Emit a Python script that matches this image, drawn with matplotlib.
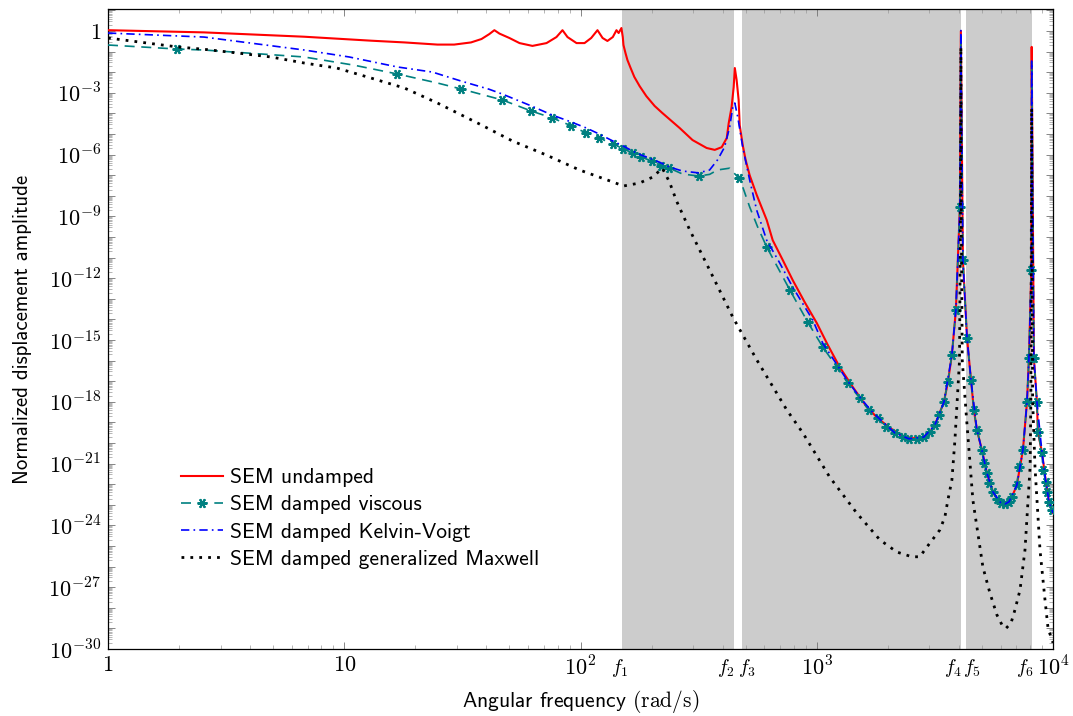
import matplotlib
matplotlib.use("Agg")
import matplotlib.pyplot as plt
import matplotlib.ticker as mticker
import matplotlib.transforms as mtransforms
import numpy as np

plt.rcParams['mathtext.fontset'] = 'cm'
plt.rcParams['font.family'] = ['cmss10', 'DejaVu Sans']
plt.rcParams['axes.unicode_minus'] = False

# ---------------- data ----------------
band_edges = [150, 445, 484, 4074, 4278, 8124]
band_labels = [r'$f_1$', r'$f_2$', r'$f_3$', r'$f_4$', r'$f_5$', r'$f_6$']

undamped_f = [1, 2.55, 6.77, 13, 18, 24.8, 29.2, 34.4, 38.1, 41.1,
              43.2, 45.4, 50, 55.2, 62.6, 71.8, 79.1, 83.9, 88.1, 96.2,
              104, 111, 118, 124, 130, 137, 142, 145, 149, 151,
              152, 155, 158, 163, 169, 178, 190, 206, 222, 263,
              298, 342, 370, 396, 416, 424, 436, 445, 450, 458,
              467, 472, 486, 500, 520, 557, 614, 651, 718, 791,
              889, 1000, 1114, 1250, 1421, 1630, 1812, 2040, 2313, 2550,
              2840, 3010, 3162, 3288, 3454, 3590, 3733, 3881, 4036, 4074,
              4156, 4325, 4498, 4625, 4764, 5000, 5250, 5570, 5790, 6025,
              6265, 6514, 6700, 7030, 7460, 7760, 7910, 8095, 8124, 8300,
              8550, 8630, 8980, 9330, 9620, 10000]
undamped_a = [1.1, 0.86, 0.53, 0.34, 0.28, 0.22, 0.22, 0.28, 0.41, 0.71,
              1.1, 0.75, 0.46, 0.26, 0.19, 0.26, 0.51, 1.1, 0.51, 0.26,
              0.26, 0.46, 1.1, 0.46, 0.33, 0.51, 1.1, 0.8, 1.4, 0.51,
              0.21, 0.086, 0.039, 0.016, 5.9e-3, 2.1e-3, 6.9e-4, 2.3e-4, 1.05e-4, 1.95e-5,
              5.1e-6, 2.1e-6, 1.7e-6, 2.3e-6, 6.4e-6, 3.4e-5, 2e-4, 1.9e-3, 1.6e-2, 4.2e-3,
              4.5e-4, 2.7e-5, 2.9e-6, 5.5e-7, 1.0e-7, 1.1e-8, 6.7e-10, 7e-11, 7.6e-12, 8.1e-13,
              6.9e-14, 6.7e-15, 5.7e-16, 4.9e-17, 5.2e-18, 5.6e-19, 1.6e-19, 5.4e-20, 2.2e-20, 1.7e-20,
              2.0e-20, 3.4e-20, 7.5e-20, 2.3e-19, 9.8e-19, 9.1e-18, 1.9e-16, 2.9e-14, 2.9e-9, 1.0,
              7.6e-12, 1.3e-15, 1.1e-17, 4e-19, 4.3e-20, 4.6e-21, 3.5e-22, 4.2e-23, 1.9e-23, 1.2e-23,
              1.1e-23, 1.4e-23, 2.4e-23, 9.1e-23, 4.6e-21, 9.8e-19, 1.35e-16, 2.5e-12, 0.17, 1.35e-16,
              9.8e-19, 3.4e-20, 3.6e-21, 1.3e-22, 1.4e-23, 4e-24]

viscous_f = [1, 1.96, 2.55, 6.77, 11, 16.8, 24.8, 31.3, 46.7, 62,
             76, 91.6, 106, 120, 137, 152, 166, 181, 200, 220,
             238, 270, 316, 352, 380, 428, 467, 486, 520, 562,
             614, 769, 916, 1060, 1216, 1353, 1521, 1660, 1812, 1960,
             2140, 2313, 2455, 2655, 2840, 3010, 3162, 3288, 3454, 3590,
             3733, 3881, 4036, 4074, 4156, 4325, 4498, 4625, 4764, 5000,
             5100, 5250, 5355, 5570, 5790, 6025, 6265, 6514, 6700, 7030,
             7170, 7460, 7760, 7910, 8095, 8124, 8300, 8550, 8630, 8980,
             9070, 9330, 9430, 9620, 9900, 10000]
viscous_a = [0.21, 0.134, 0.12, 0.055, 0.022, 8.2e-3, 3e-3, 1.53e-3, 4.5e-4, 1.3e-4,
             6e-5, 2.5e-5, 1.1e-5, 6.4e-6, 3.3e-6, 1.9e-6, 1.2e-6, 7.6e-7, 4.9e-7, 2.8e-7,
             2.2e-7, 1.15e-7, 9.1e-8, 1.1e-7, 1.8e-7, 2.2e-7, 7.3e-8, 2.7e-8, 2.9e-9, 3.1e-10,
             3.3e-11, 2.7e-13, 7.4e-15, 4.6e-16, 4.9e-17, 8.1e-18, 1.5e-18, 4e-19, 1.6e-19, 6e-20,
             3.1e-20, 1.95e-20, 1.6e-20, 1.6e-20, 1.95e-20, 3.4e-20, 7.5e-20, 2.3e-19, 9.8e-19, 9.1e-18,
             1.9e-16, 2.9e-14, 2.9e-9, 0.3, 7.6e-12, 1.3e-15, 1.1e-17, 4e-19, 4.3e-20, 4.6e-21,
             1.07e-21, 3.5e-22, 1.15e-22, 4.2e-23, 1.9e-23, 1.2e-23, 1.1e-23, 1.4e-23, 2.4e-23, 9.1e-23,
             6.8e-22, 4.6e-21, 9.8e-19, 1.35e-16, 2.5e-12, 0.03, 1.35e-16, 9.8e-19, 3.4e-20, 3.6e-21,
             4.9e-22, 1.3e-22, 4.2e-23, 1.4e-23, 5.6e-24, 4e-24]
viscous_unmarked = [1, 2.55, 6.77, 11, 24.8, 270, 352, 380, 428, 486, 520, 562,
                    4074, 8124, 10000]

kv_f = [1, 2.55, 6.77, 10.5, 16.8, 23.6, 31.3, 41, 46.7, 62,
        76, 91.6, 106, 120, 137, 152, 166, 181, 200, 220,
        238, 270, 316, 352, 380, 407, 428, 441, 450, 463,
        486, 520, 557, 614, 697, 791, 962, 1060, 1216, 1353,
        1521, 1726, 2140, 2455, 2840, 3162, 3454, 3733, 3881, 4036,
        4074, 4156, 4325, 4498, 4764, 5000, 5250, 5570, 6025, 6265,
        6514, 7030, 7460, 7760, 7910, 8095, 8124, 8300, 8550, 8980,
        9330, 9620, 10000]
kv_a = [0.8, 0.51, 0.12, 0.055, 0.018, 0.0102, 3.7e-3, 1.5e-3, 8.7e-4, 2.3e-4,
        8.3e-5, 3.8e-5, 1.95e-5, 1e-5, 4.6e-6, 2.6e-6, 1.5e-6, 9.5e-7, 6.2e-7, 3.9e-7,
        2.5e-7, 1.6e-7, 1.3e-7, 1.8e-7, 5.5e-7, 2.3e-6, 2.2e-5, 2e-4, 3.2e-4, 6.7e-5,
        2.3e-6, 5.9e-8, 2e-9, 7e-11, 5.5e-12, 3.7e-13, 9.3e-15, 7e-16, 6.5e-17, 1e-17,
        1.7e-18, 3e-19, 3.1e-20, 1.6e-20, 1.95e-20, 7.5e-20, 9.8e-19, 1.9e-16, 2.9e-14, 2.9e-9,
        1.15, 7.6e-12, 1.3e-15, 1.1e-17, 4.3e-20, 4.6e-21, 3.5e-22, 4.2e-23, 1.2e-23, 1.1e-23,
        1.4e-23, 9.1e-23, 4.6e-21, 9.8e-19, 1.35e-16, 2.5e-12, 0.035, 1.35e-16, 9.8e-19, 3.6e-21,
        1.3e-22, 1.4e-23, 4e-24]

maxwell_f = [1, 1.96, 2.55, 3.52, 4.9, 6.77, 9.3, 13, 18, 24.8,
             37.3, 51.5, 71.8, 99, 137, 152, 178, 202, 222, 238,
             255, 290, 352, 441, 557, 747, 873, 1135, 1476, 1849,
             2183, 2527, 2730, 2925, 3318, 3487, 3590, 3733, 3845, 4020,
             4060, 4074, 4090, 4130, 4320, 4580, 5050, 5408, 5790, 6080,
             6320, 6640, 6900, 7250, 7610, 8000, 8060, 8124, 8200, 8390,
             8810, 9250, 9530, 10000]
maxwell_a = [0.46, 0.17, 0.13, 0.086, 0.055, 0.028, 0.016, 5.2e-3, 1.7e-3, 3.2e-4,
             3.1e-5, 4.6e-6, 9.5e-7, 1.8e-7, 4.7e-8, 3e-8, 4.2e-8, 8.1e-8, 2.2e-7, 4.7e-8,
             5.6e-9, 2.2e-10, 2.5e-12, 1.3e-14, 1.1e-16, 4e-19, 3.1e-20, 2.2e-22, 4e-24, 2e-25,
             5.1e-26, 3e-26, 3e-26, 8.9e-26, 6e-25, 2.6e-24, 1.7e-23, 1.6e-22, 1.4e-20, 1e-16,
             1e-9, 0.17, 1e-9, 1e-16, 9.3e-20, 1.7e-23, 9.5e-27, 5.2e-28, 4.5e-29, 1.5e-29,
             1e-29, 1.8e-29, 7.9e-29, 7.3e-28, 6.4e-26, 6.8e-22, 1.2e-18, 1.8e-4, 1.2e-18, 6.8e-22,
             6.4e-26, 2.4e-28, 1e-29, 2e-30]

x_limits = (1, 1e4)
y_limits = (1e-30, 10 ** 1.07)

# ---------------- figure ----------------
W, H = 1073, 716
fig = plt.figure(figsize=(W / 100, H / 100), dpi=100)
ax = fig.add_axes([108 / W, (H - 649) / H, (1053 - 108) / W, (649 - 9) / H])
ax.set_xscale('log')
ax.set_yscale('log')
ax.set_xlim(*x_limits)
ax.set_ylim(*y_limits)

for i in range(0, len(band_edges), 2):
    ax.axvspan(band_edges[i], band_edges[i + 1], color='#cccccc', lw=0, zorder=0)

ax.plot(undamped_f, undamped_a, color='#ff0000', lw=1.5, label='SEM undamped', zorder=3)
mark_idx = [i for i, f in enumerate(viscous_f) if f not in viscous_unmarked]
ax.plot(viscous_f, viscous_a, color='#008080', lw=1.2, ls=(0, (6, 4)),
        marker=(6, 2, 30), ms=7, mew=1.5, markevery=mark_idx,
        label='SEM damped viscous', zorder=4)
ax.plot(kv_f, kv_a, color='#0000ff', lw=1.2, ls=(0, (5, 2.5, 1, 2.5)),
        label='SEM damped Kelvin-Voigt', zorder=5)
ax.plot(maxwell_f, maxwell_a, color='black', lw=2.0, ls=(0, (1, 2.2)),
        label='SEM damped generalized Maxwell', zorder=6)

ax.xaxis.set_major_locator(mticker.LogLocator(base=10, numticks=20))
ax.xaxis.set_minor_locator(mticker.LogLocator(base=10, subs=np.arange(2, 10), numticks=50))
ax.yaxis.set_major_locator(mticker.LogLocator(base=10, subs=(1.0,), numticks=60))
ax.yaxis.set_minor_locator(mticker.LogLocator(base=10, subs=np.arange(2, 10), numticks=60))


def xfmt(v, pos):
    e = int(round(np.log10(v)))
    if e == 0:
        return r'$1$'
    if e == 1:
        return r'$10$'
    return r'$10^{%d}$' % e


def yfmt(v, pos):
    e = int(round(np.log10(v)))
    if e % 3 != 0:
        return ''
    if e == 0:
        return r'$1$'
    return r'$10^{%d}$' % e


ax.xaxis.set_major_formatter(mticker.FuncFormatter(xfmt))
ax.yaxis.set_major_formatter(mticker.FuncFormatter(yfmt))
ax.xaxis.set_minor_formatter(mticker.NullFormatter())
ax.yaxis.set_minor_formatter(mticker.NullFormatter())
ax.tick_params(which='both', direction='in', top=True, right=True)
ax.tick_params(which='major', length=5, width=0.6, color='0.45', labelsize=16, pad=5)
ax.tick_params(which='minor', length=3, width=0.5, color='0.6')
for s in ax.spines.values():
    s.set_linewidth(0.9)

ax.set_xlabel(r'Angular frequency $(\mathrm{rad/s})$', fontsize=15.5, labelpad=6)
ax.set_ylabel('Normalized displacement amplitude', fontsize=15, labelpad=12)

trans = mtransforms.blended_transform_factory(ax.transData, ax.transAxes)
offsets = [-2, -8, 5, -8, 6, -7]
for f, lab, dx in zip(band_edges, band_labels, offsets):
    ax.annotate(lab, xy=(f, 0), xycoords=trans, xytext=(dx * 0.72, -6),
                textcoords='offset points', ha='center', va='top', fontsize=14)

ax.legend(loc='upper left', bbox_to_anchor=(0.068, 0.296), frameon=False,
          fontsize=15.5, handlelength=1.95, handletextpad=0.33, labelspacing=0.38,
          borderaxespad=0)

fig.savefig('out.png', dpi=100)
